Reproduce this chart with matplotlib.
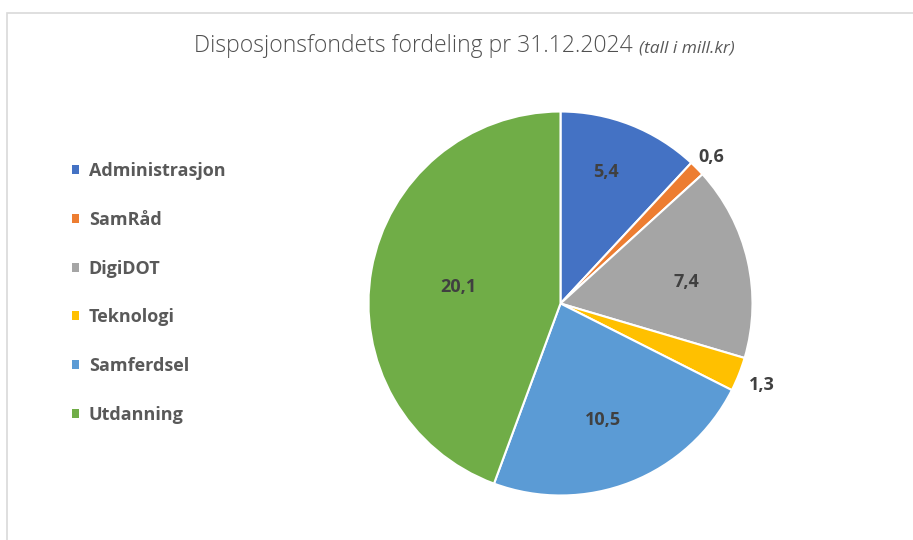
import matplotlib
matplotlib.use("Agg")
import matplotlib.pyplot as plt
import matplotlib.patches as mpatches
import numpy as np

categories = ["Administrasjon", "SamRåd", "DigiDOT", "Teknologi", "Samferdsel", "Utdanning"]
values = [5.4, 0.6, 7.4, 1.3, 10.5, 20.1]
value_labels = ["5,4", "0,6", "7,4", "1,3", "10,5", "20,1"]
colors = ["#4472C4", "#ED7D31", "#A5A5A5", "#FFC000", "#5B9BD5", "#70AD47"]
label_r = [0.736, 1.104, 0.666, 1.128, 0.636, 0.542]
label_dang = [2.7, -0.2, -2.1, 0.0, -1.0, 0.1]

W, H = 913, 540
fig = plt.figure(figsize=(W / 100, H / 100), dpi=100)
fig.patch.set_facecolor("white")

# chart-area border
border = mpatches.Rectangle((7 / W, -0.1), 1.2, (H - 13) / H + 0.1, transform=fig.transFigure,
                            fill=False, edgecolor="#D9D9D9", linewidth=1.2)
fig.add_artist(border)

cx, cy, R = 560.5, 303.5, 192
ax = fig.add_axes([(cx - R) / W, (H - cy - R) / H, 2 * R / W, 2 * R / H])
wedges, _ = ax.pie(values, colors=colors, startangle=90, counterclock=False,
                   wedgeprops=dict(edgecolor="white", linewidth=1.5), radius=1)
ax.set_xlim(-1, 1)
ax.set_ylim(-1, 1)
ax.set_aspect("equal")
ax.axis("off")

for w, lab, r, da in zip(wedges, value_labels, label_r, label_dang):
    ang = np.deg2rad((w.theta1 + w.theta2) / 2 + da)
    ax.text(r * np.cos(ang), r * np.sin(ang), lab, ha="center", va="center_baseline",
            fontsize=13, fontweight="bold", color="#404040", family="Open Sans")

# title
fig.text(633 / W, 1 - 52.5 / H, "Disposjonsfondets fordeling pr 31.12.2024", ha="right",
         va="baseline", fontsize=16.5, fontweight="light", color="#505050", family="Open Sans")
fig.text(639 / W, 1 - 52.5 / H, "(tall i mill.kr)", ha="left", va="baseline",
         fontsize=12.5, style="italic", color="#595959", family="Open Sans")

handles = [mpatches.Rectangle((0, 0), 1, 1, facecolor=c, edgecolor="none") for c in colors]
leg = fig.legend(handles, categories, loc="upper left", bbox_to_anchor=(56 / W, 1 - 146 / H),
                 frameon=False, handlelength=0.4, handleheight=0.4, handletextpad=0.52,
                 labelspacing=1.70, prop=dict(size=13, weight="bold", family="Open Sans"))
for t in leg.get_texts():
    t.set_color("#595959")

fig.savefig("out.png", dpi=100)
